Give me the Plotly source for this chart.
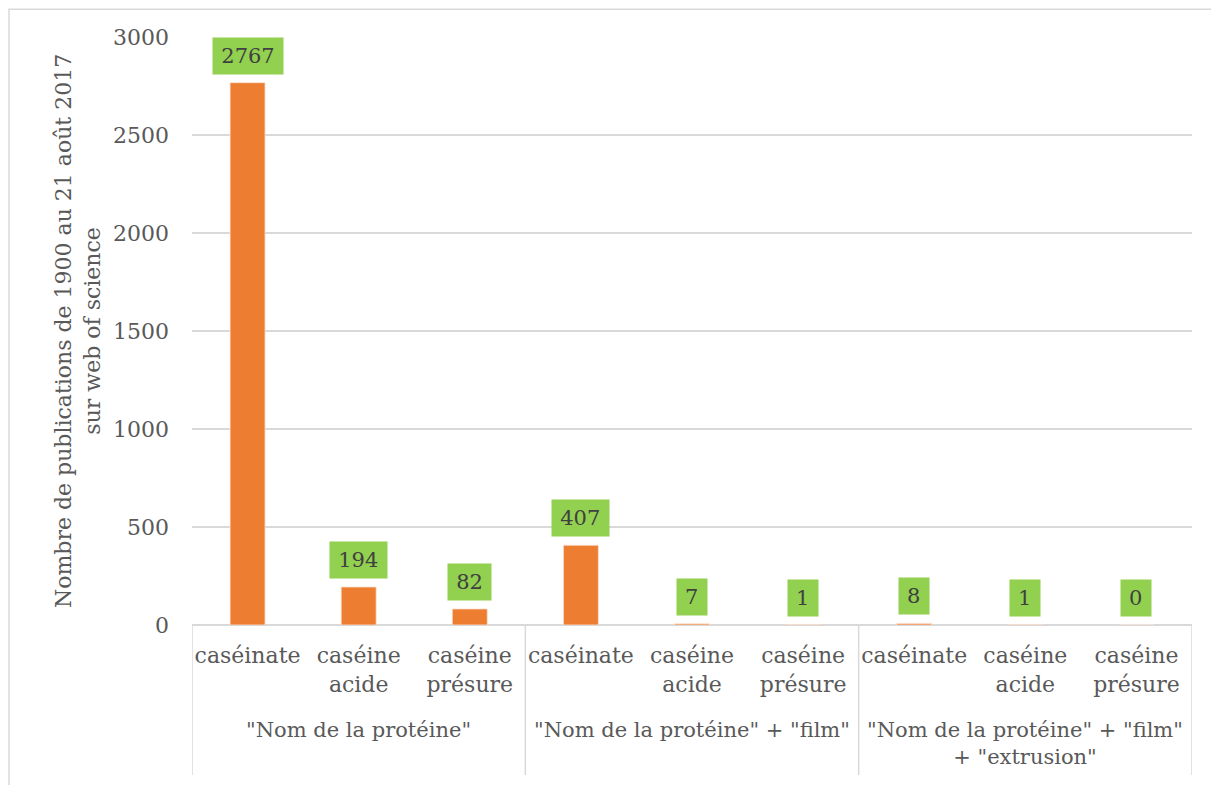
import plotly.graph_objects as go

# ---- data ----
groups = ['"Nom de la protéine"',
          '"Nom de la protéine" + "film"',
          '"Nom de la protéine" + "film"<br>+ "extrusion"']
proteins = ["caséinate", "caséine<br>acide", "caséine<br>présure"]
values = [2767, 194, 82, 407, 7, 1, 8, 1, 0]
y_ticks = [0, 500, 1000, 1500, 2000, 2500, 3000]

n_p = len(proteins)
xs = list(range(len(values)))
tick_text = [proteins[i % n_p] for i in xs]

FONT = "DejaVu Serif"
GRAY = "#595959"
GRID = "#D9D9D9"
FS = 22

fig = go.Figure()
fig.add_trace(go.Bar(
    x=xs, y=values, width=0.315,
    marker=dict(color="#ED7D31", line=dict(color="#FBE5D6", width=0.8)),
    hoverinfo="x+y",
))

# data labels (green boxes)
for x, v in zip(xs, values):
    s = str(v)
    fig.add_annotation(
        x=x, y=v, xref="x", yref="y", text=s, showarrow=False,
        yanchor="bottom", yshift=8, bgcolor="#92D050",
        width=16 + 13.5 * len(s), height=36, borderpad=0,
        font=dict(family=FONT, size=FS - 1, color="#404040"),
    )

# group labels
for g, name in enumerate(groups):
    fig.add_annotation(
        x=g * n_p + (n_p - 1) / 2, y=-0.155, xref="x", yref="paper",
        text=name, showarrow=False, yanchor="top", xanchor="center",
        font=dict(family=FONT, size=21, color=GRAY),
    )

# group dividers
for g in range(len(groups) + 1):
    xd = g * n_p - 0.5
    fig.add_shape(type="line", xref="x", yref="paper",
                  x0=xd, x1=xd, y0=0, y1=-0.255,
                  line=dict(color=GRID, width=1.5))

# y-axis title
fig.add_annotation(
    x=-0.114, y=0.5, xref="paper", yref="paper", textangle=-90,
    xanchor="center", yanchor="middle",
    text="Nombre de publications de 1900 au 21 août 2017<br>sur web of science",
    showarrow=False, font=dict(family=FONT, size=FS, color=GRAY),
)

# chart border
fig.add_shape(type="rect", xref="paper", yref="paper",
              x0=-0.183, x1=1.06, y0=-0.3, y1=1.047,
              line=dict(color=GRID, width=1.5), layer="below")

fig.update_layout(
    width=1219, height=785,
    margin=dict(l=184, r=35, t=29, b=168),
    paper_bgcolor="white", plot_bgcolor="white",
    showlegend=False,
    font=dict(family=FONT, size=FS, color=GRAY),
    xaxis=dict(
        tickmode="array", tickvals=xs, ticktext=tick_text,
        range=[-0.5, len(values) - 0.5],
        showgrid=False, zeroline=False, showline=False,
        ticks="", ticklabelstandoff=15,
        tickfont=dict(family=FONT, size=FS, color=GRAY),
    ),
    yaxis=dict(
        range=[0, 3000], tickvals=y_ticks,
        showgrid=True, gridcolor=GRID, gridwidth=1.5,
        zeroline=True, zerolinecolor=GRID, zerolinewidth=1.5,
        showline=False, ticks="", ticklabelstandoff=22,
        tickfont=dict(family=FONT, size=FS, color=GRAY),
    ),
)

fig.write_html("out.html")
